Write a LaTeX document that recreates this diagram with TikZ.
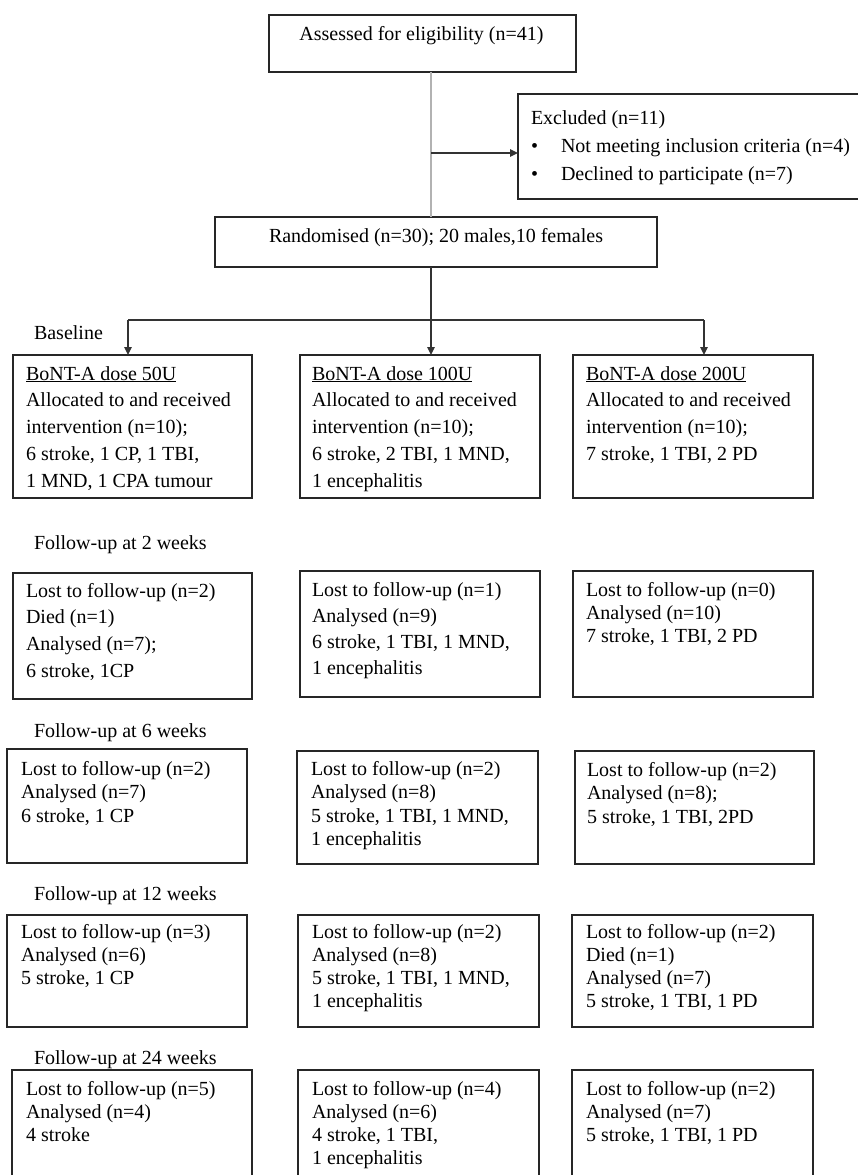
\documentclass[tikz,border=0pt]{standalone}
\usepackage{fontspec}
\setmainfont{Liberation Serif}
\usetikzlibrary{arrows.meta}
\tikzset{
  box/.style={draw=black!85, line width=1.4pt, inner sep=0pt, outer sep=0pt, anchor=north west},
  txt/.style={inner sep=0pt, outer sep=0pt, anchor=base west, font=\fontsize{20}{24}\selectfont},
  conn/.style={draw=black!80, line width=1.3pt},
  arr/.style={conn, -{Triangle[length=8pt,width=7.5pt]}},
  grayline/.style={draw=black!30, line width=2.6pt},
}
\newcommand{\bx}[5]{\node[box, minimum width={#4-#2}, minimum height={#5-#3}] (#1) at (#2,-#3) {};}
\newcommand{\lns}[5]{\foreach \tx [count=\i] in {#5} {\node[txt] (#1\i) at (#2,{-(#3+(\i-1)*#4)}) {\tx};}}
\begin{document}
\begin{tikzpicture}[x=1pt,y=1pt]
\useasboundingbox (0,0) rectangle (858,-1175);
\clip (0,0) rectangle (858,-1175);
% boxes
\bx{assess}{269}{15}{576}{72}
\bx{excl}{518}{94}{880}{199}
\bx{rand}{215}{217}{657}{267}
\bx{a1}{13}{355}{252}{498}
\bx{a2}{300}{355}{540}{498}
\bx{a3}{573}{355}{813}{498}
\bx{wa1}{13}{573}{252}{699}
\bx{wa2}{300}{571}{540}{697}
\bx{wa3}{573}{571}{813}{697}
\bx{wb1}{7}{749}{247}{863}
\bx{wb2}{297}{751}{538}{864}
\bx{wb3}{575}{751}{814}{864}
\bx{wc1}{7}{915}{247}{1027}
\bx{wc2}{298}{915}{539}{1027}
\bx{wc3}{572}{915}{813}{1027}
\bx{wd1}{12}{1070}{252}{1200}
\bx{wd2}{298}{1070}{539}{1200}
\bx{wd3}{572}{1070}{813}{1200}
% top texts
\node[txt, anchor=base] (tassess) at (421.5,-40) {Assessed for eligibility (n=41)};
\node[txt] (texcl) at (531,-124) {Excluded (n=11)};
\node[txt] (bul1) at (531,-152) {\textbullet};
\node[txt] (texc1) at (561,-152) {Not meeting inclusion criteria (n=4)};
\node[txt] (bul2) at (531,-180) {\textbullet};
\node[txt] (texc2) at (561,-180) {Declined to participate (n=7)};
\node[txt, anchor=base] (trand) at (436,-242) {Randomised (n=30); 20 males,10 females};
% connectors
\coordinate (j1) at (431,-153);
\coordinate (j2) at (431,-320);
\coordinate (jL) at (128,-320);
\coordinate (jR) at (704,-320);
\draw[grayline] (assess.south -| j1) -- (rand.north -| j1);
\draw[arr] (j1) -- (j1 -| excl.west);
\draw[conn] (rand.south -| j2) -- (j2);
\draw[conn] (jL) -- (jR);
\draw[arr] (j2) -- (j2 |- a2.north);
\draw[arr] (jL) -- (jL |- a1.north);
\draw[arr] (jR) -- (jR |- a3.north);
% stage labels
\node[txt] (lbase) at (34,-339) {Baseline};
\node[txt] (l2) at (34,-549) {Follow-up at 2 weeks};
\node[txt] (l6) at (34,-737) {Follow-up at 6 weeks};
\node[txt] (l12) at (34,-900) {Follow-up at 12 weeks};
\node[txt] (l24) at (34,-1064) {Follow-up at 24 weeks};
% baseline boxes
\lns{ta1-}{26}{380}{26.75}{{\underline{BoNT-A dose 50U}},{Allocated to and received},{intervention (n=10);},{6 stroke, 1 CP, 1 TBI,},{1 MND, 1 CPA tumour}}
\lns{ta2-}{312}{380}{26.75}{{\underline{BoNT-A dose 100U}},{Allocated to and received},{intervention (n=10);},{6 stroke, 2 TBI, 1 MND,},{1 encephalitis}}
\lns{ta3-}{586}{380}{26.75}{{\underline{BoNT-A dose 200U}},{Allocated to and received},{intervention (n=10);},{7 stroke, 1 TBI, 2 PD}}
% 2 weeks
\lns{twa1-}{26}{597}{26.7}{{Lost to follow-up (n=2)},{Died (n=1)},{Analysed (n=7);},{6 stroke, 1CP}}
\lns{twa2-}{312}{596}{26.3}{{Lost to follow-up (n=1)},{Analysed (n=9)},{6 stroke, 1 TBI, 1 MND,},{1 encephalitis}}
\lns{twa3-}{586}{596}{23}{{Lost to follow-up (n=0)},{Analysed (n=10)},{7 stroke, 1 TBI, 2 PD}}
% 6 weeks
\lns{twb1-}{21}{775}{23.5}{{Lost to follow-up (n=2)},{Analysed (n=7)},{6 stroke, 1 CP}}
\lns{twb2-}{311}{775}{23.5}{{Lost to follow-up (n=2)},{Analysed (n=8)},{5 stroke, 1 TBI, 1 MND,},{1 encephalitis}}
\lns{twb3-}{587}{776}{23.5}{{Lost to follow-up (n=2)},{Analysed (n=8);},{5 stroke, 1 TBI, 2PD}}
% 12 weeks
\lns{twc1-}{21}{938}{23.3}{{Lost to follow-up (n=3)},{Analysed (n=6)},{5 stroke, 1 CP}}
\lns{twc2-}{312}{938}{23.3}{{Lost to follow-up (n=2)},{Analysed (n=8)},{5 stroke, 1 TBI, 1 MND,},{1 encephalitis}}
\lns{twc3-}{586}{938}{23.3}{{Lost to follow-up (n=2)},{Died (n=1)},{Analysed (n=7)},{5 stroke, 1 TBI, 1 PD}}
% 24 weeks
\lns{twd1-}{26}{1095}{23}{{Lost to follow-up (n=5)},{Analysed (n=4)},{4 stroke}}
\lns{twd2-}{312}{1095}{23}{{Lost to follow-up (n=4)},{Analysed (n=6)},{4 stroke, 1 TBI,},{1 encephalitis}}
\lns{twd3-}{586}{1095}{23}{{Lost to follow-up (n=2)},{Analysed (n=7)},{5 stroke, 1 TBI, 1 PD}}
\end{tikzpicture}
\end{document}
